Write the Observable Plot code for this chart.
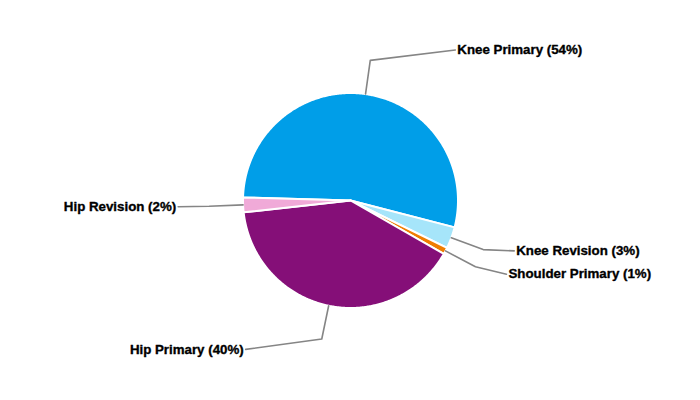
<!DOCTYPE html>
<html><head><meta charset="utf-8">
<script src="https://cdn.jsdelivr.net/npm/d3@7"></script>
<script src="https://cdn.jsdelivr.net/npm/@observablehq/plot@0.6"></script>
<style>body{margin:0;background:#fff}</style>
</head><body><div id="chart"></div>
<script>
// ---- data ----
const categories = ["Knee Primary", "Knee Revision", "Shoulder Primary", "Hip Primary", "Hip Revision"];
const shares = [53.6, 3.25, 1.0, 40.0, 2.2];
const colors = ["#009EE8", "#A6E5FA", "#F07D00", "#850F78", "#F0AAD8"];

// ---- layout ----
const W = 700, H = 400, R = 107.5;           // pixel radius of the pie
const startDeg = -88.4;                       // first slice starts just above 9 o'clock
const pie = d3.pie().sort(null)
  .startAngle(startDeg * Math.PI / 180)
  .endAngle(startDeg * Math.PI / 180 + 2 * Math.PI);
const arcs = pie(shares);
const total = d3.sum(shares);
const pt = (a, r) => [r * Math.sin(a), r * Math.cos(a)];

const slicePts = [];
arcs.forEach((a, i) => {
  slicePts.push({x: 0, y: 0, k: categories[i]});
  const n = Math.max(2, Math.ceil((a.endAngle - a.startAngle) / (Math.PI / 360)));
  for (let j = 0; j <= n; j++) {
    const t = a.startAngle + (a.endAngle - a.startAngle) * j / n;
    const [x, y] = pt(t, 1);
    slicePts.push({x, y, k: categories[i]});
  }
});

const bendR = 1.316, labelR = 1.414, minGap = 23.3 / R, run = 31 / R, minX = 0.975;
const labels = arcs.map((a, i) => {
  const m = (a.startAngle + a.endAngle) / 2;
  const [ex, ey] = pt(m, 1), [bx, by] = pt(m, bendR);
  const side = bx < 0 ? -1 : 1;
  return {k: categories[i], text: `${categories[i]} (${Math.round(100 * shares[i] / total)}%)`,
          ex, ey, bx, by, side, ly: labelR * Math.cos(m)};
});
for (const s of [-1, 1]) {
  const g = labels.filter(d => d.side === s).sort((a, b) => b.ly - a.ly);
  for (let it = 0; it < 50; it++) {
    for (let j = 1; j < g.length; j++) {
      const gap = g[j - 1].ly - g[j].ly;
      if (gap < minGap) { const d = (minGap - gap) / 2; g[j - 1].ly += d; g[j].ly -= d; }
    }
  }
}
labels.forEach(d => { d.lx = d.side * Math.max(Math.abs(d.bx) + run, minX); });
const leaderPts = labels.flatMap(d => [
  {x: d.ex, y: d.ey, k: d.k}, {x: d.bx, y: d.by, k: d.k}, {x: d.lx, y: d.ly, k: d.k}
]);

const textOpts = {x: "lx", y: "ly", text: "text", fontSize: 13.3, fontWeight: "bold",
                  fill: "black", stroke: "black", strokeWidth: 0.35};
const chart = Plot.plot({
  width: W, height: H, margin: 0,
  style: {fontFamily: "'Liberation Sans', Arial, sans-serif", background: "white"},
  x: {domain: [-W / 2 / R, W / 2 / R], axis: null},
  y: {domain: [-H / 2 / R, H / 2 / R], axis: null},
  color: {domain: categories, range: colors},
  marks: [
    Plot.line(slicePts, {x: "x", y: "y", z: "k", fill: "k", stroke: "white", strokeWidth: 2, curve: "linear-closed"}),
    Plot.line(leaderPts, {x: "x", y: "y", z: "k", stroke: "#858585", strokeWidth: 1.6}),
    Plot.text(labels.filter(d => d.side > 0), {...textOpts, textAnchor: "start", dx: 2}),
    Plot.text(labels.filter(d => d.side < 0), {...textOpts, textAnchor: "end", dx: -2})
  ]
});
document.getElementById("chart").append(chart);
</script>
</body></html>
